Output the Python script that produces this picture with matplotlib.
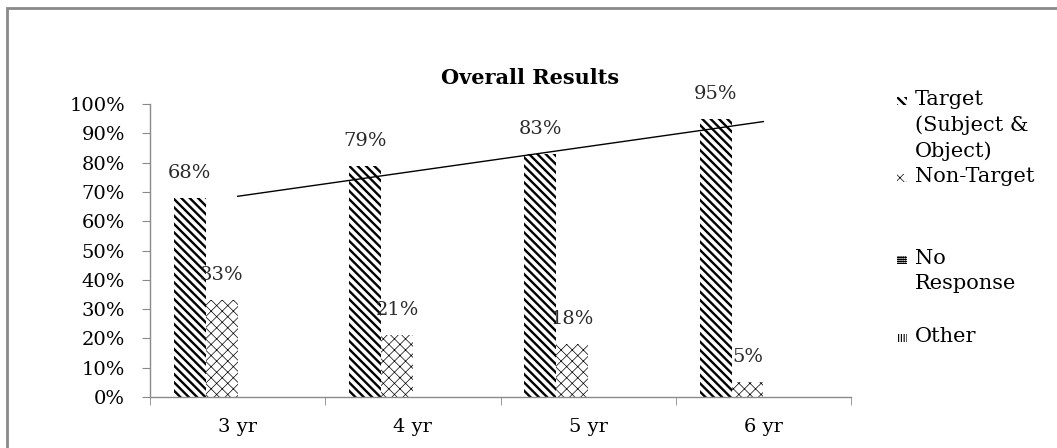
import matplotlib
matplotlib.use("Agg")
import matplotlib.pyplot as plt
from matplotlib.patches import Rectangle
import numpy as np

# ---- data ----
categories = ["3 yr", "4 yr", "5 yr", "6 yr"]
series_names = ["Target\n(Subject &\nObject)", "Non-Target", "No\nResponse", "Other"]
target = [68, 79, 83, 95]
non_target = [33, 21, 18, 5]
no_response = [0, 0, 0, 0]
other = [0, 0, 0, 0]
y_ticks = [0, 10, 20, 30, 40, 50, 60, 70, 80, 90, 100]

series = [target, non_target, no_response, other]
hatches = ["\\" * 4, "xxx", "+" * 8, "|" * 6]
hatch_lw = [1.7, 0.5, 0.6, 0.8]

plt.rcParams["font.family"] = ["DejaVu Serif"]

W, H = 1057, 448
fig = plt.figure(figsize=(W / 100, H / 100), dpi=100)


def fx(px):
    return px / W


def fy(py):
    return 1 - py / H


# outer chart frame
fig.add_artist(Rectangle((fx(7), fy(470)), fx(1080) - fx(7), fy(8) - fy(470),
                         transform=fig.transFigure, fill=False,
                         edgecolor="#8a8a8a", linewidth=2.0, clip_on=False))

ax = fig.add_axes([fx(150), fy(397), fx(851) - fx(150), fy(104) - fy(397)])

n = len(series)
bw = 1.0 / (n + 1.5)
x = np.arange(len(categories))
for i, vals in enumerate(series):
    offs = (i - (n - 1) / 2) * bw
    with plt.rc_context({"hatch.linewidth": hatch_lw[i]}):
        ax.bar(x + offs, vals, bw, facecolor="white", edgecolor="black",
               linewidth=0, hatch=hatches[i])
    for xi, v in zip(x + offs, vals):
        if v > 0:
            ax.annotate(f"{v}%", (xi, v), xytext=(0, 18), textcoords="offset points",
                        ha="center", va="center", fontsize=14, color="#2a2a2a")

# linear trend of the target series
coef = np.polyfit(x, target, 1)
xt = np.array([x[0], x[-1]])
ax.plot(xt, np.polyval(coef, xt), color="black", linewidth=1.0)

ax.set_xlim(-0.5, len(categories) - 0.5)
ax.set_ylim(0, 100)
ax.set_yticks(y_ticks)
ax.set_yticklabels([f"{v}%" for v in y_ticks], fontsize=14)
ax.set_xticks(x)
ax.set_xticklabels(categories, fontsize=14)
ax.set_xticks(np.arange(len(categories) + 1) - 0.5, minor=True)
ax.tick_params(axis="x", which="major", length=0, pad=15)
ax.tick_params(axis="x", which="minor", length=6, color="#8a8a8a", direction="out")
ax.tick_params(axis="y", length=6, color="#8a8a8a", pad=12)
for s in ["top", "right"]:
    ax.spines[s].set_visible(False)
for s in ["left", "bottom"]:
    ax.spines[s].set_color("#8a8a8a")
    ax.spines[s].set_linewidth(1.0)

fig.text(fx(530), fy(78), "Overall Results", ha="center", va="center",
         fontsize=15, fontweight="bold")

# legend
legend_rows = [101, 178, 260, 338]
for i, (name, row) in enumerate(zip(series_names, legend_rows)):
    with plt.rc_context({"hatch.linewidth": hatch_lw[i]}):
        fig.add_artist(Rectangle((fx(897), fy(row + 4)), fx(907) - fx(897), fy(row - 4) - fy(row + 4),
                                 transform=fig.transFigure, facecolor="white",
                                 edgecolor="black", linewidth=0, hatch=hatches[i]))
    fig.text(fx(915), fy(row - 11), name, ha="left", va="top", fontsize=15,
             linespacing=1.4)

fig.savefig("out.png", dpi=100)
